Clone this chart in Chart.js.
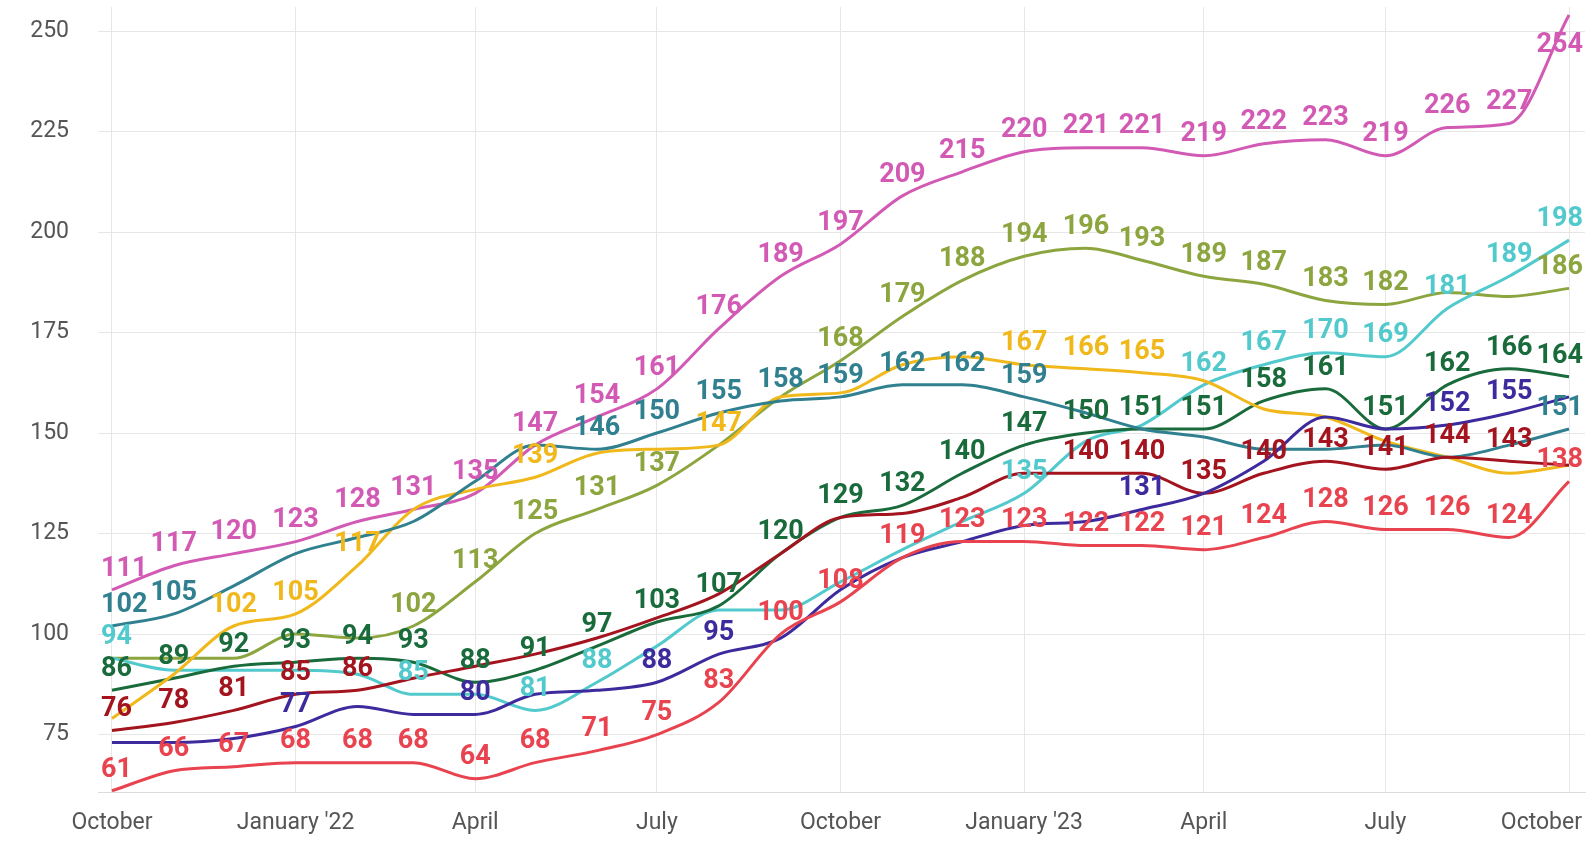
<!DOCTYPE html>
<html>
<head>
<meta charset="utf-8">
<script src="https://cdn.jsdelivr.net/npm/chart.js@4.4.1/dist/chart.umd.min.js"></script>
<style>
  html, body { margin: 0; padding: 0; background: #ffffff; }
  #wrap { width: 1595px; height: 843px; position: relative; }
</style>
</head>
<body>
<div id="wrap"><canvas id="chart"></canvas></div>
<script>

// ---------------- Data ---------------------------------------------------
const MONTHS = [
    '2021-10-01', '2021-11-01', '2021-12-01', '2022-01-01', '2022-02-01',
    '2022-03-01', '2022-04-01', '2022-05-01', '2022-06-01', '2022-07-01',
    '2022-08-01', '2022-09-01', '2022-10-01', '2022-11-01', '2022-12-01',
    '2023-01-01', '2023-02-01', '2023-03-01', '2023-04-01', '2023-05-01',
    '2023-06-01', '2023-07-01', '2023-08-01', '2023-09-01', '2023-10-01'
] ;

const TICK_LABELS = [ 'October', "January '22", 'April', 'July', 'October',
                      "January '23", 'April', 'July', 'October' ] ;
const TICK_MONTHS = [ 0, 3, 6, 9, 12, 15, 18, 21, 24 ] ;
const Y_TICKS     = [ 75, 100, 125, 150, 175, 200, 225, 250 ] ;

const pinkValues      = [ 111, 117, 120, 123, 128, 131, 135, 147, 154, 161, 176, 189, 197, 209, 215, 220, 221, 221, 219, 222, 223, 219, 226, 227, 254 ] ;
const oliveValues     = [  94,  94,  94, 100,  99, 102, 113, 125, 131, 137, 147, 159, 168, 179, 188, 194, 196, 193, 189, 187, 183, 182, 185, 184, 186 ] ;
const cyanValues      = [  94,  91,  91,  91,  90,  85,  85,  81,  88,  97, 106, 106, 113, 121, 128, 135, 148, 152, 162, 167, 170, 169, 181, 189, 198 ] ;
const yellowValues    = [  79,  90, 102, 105, 117, 131, 136, 139, 145, 146, 147, 159, 160, 167, 169, 167, 166, 165, 163, 156, 154, 148, 144, 140, 142 ] ;
const tealValues      = [ 102, 105, 112, 120, 124, 128, 138, 147, 146, 150, 155, 158, 159, 162, 162, 159, 155, 151, 149, 146, 146, 147, 144, 147, 151 ] ;
const darkGreenValues = [  86,  89,  92,  93,  94,  93,  88,  91,  97, 103, 107, 120, 129, 132, 140, 147, 150, 151, 151, 158, 161, 151, 162, 166, 164 ] ;
const purpleValues    = [  73,  73,  74,  77,  82,  80,  80,  85,  86,  88,  95,  99, 111, 119, 123, 127, 128, 131, 135, 143, 154, 151, 152, 155, 159 ] ;
const darkRedValues   = [  76,  78,  81,  85,  86,  89,  92,  95,  99, 104, 110, 120, 129, 130, 134, 140, 140, 140, 135, 140, 143, 141, 144, 143, 142 ] ;
const redValues       = [  61,  66,  67,  68,  68,  68,  64,  68,  71,  75,  83, 100, 108, 119, 123, 123, 122, 122, 121, 124, 128, 126, 126, 124, 138 ] ;

// which points carry a value label
const ALL = MONTHS.map( (m, i) => i ) ;
const pinkLabels      = ALL ;
const oliveLabels     = [ 5, 6, 7, 8, 9, 12, 13, 14, 15, 16, 17, 18, 19, 20, 21, 24 ] ;
const cyanLabels      = [ 0, 5, 7, 8, 15, 18, 19, 20, 21, 22, 23, 24 ] ;
const yellowLabels    = [ 2, 3, 4, 7, 10, 15, 16, 17 ] ;
const tealLabels      = [ 0, 1, 8, 9, 10, 11, 12, 13, 14, 15, 24 ] ;
const darkGreenLabels = ALL ;
const purpleLabels    = [ 3, 6, 9, 10, 17, 22, 23 ] ;
const darkRedLabels   = [ 0, 1, 2, 3, 4, 16, 17, 18, 19, 20, 21, 22, 23 ] ;
const redLabels       = ALL ;

// ---------------- Styles -------------------------------------------------
const PINK       = '#d35ab4' ;
const OLIVE      = '#8ca53f' ;
const CYAN       = '#52c9cc' ;
const YELLOW     = '#f0b81a' ;
const TEAL       = '#30808f' ;
const DARK_GREEN = '#1a6b3c' ;
const PURPLE     = '#3d2b9e' ;
const DARK_RED   = '#a3141e' ;
const RED        = '#e8434f' ;

const GRID_COLOR   = '#e6e6e6' ;
const TICK_COLOR   = '#555555' ;
const TICK_FONT    = '23px Roboto' ;
const LABEL_FONT   = 'bold 27px Roboto' ;
const LABEL_OFFSET = 21 ;

// days since the first month, used as the x value
const dayZero = Date.parse( MONTHS[0] ) ;
const monthDays = MONTHS.map( m => ( Date.parse( m ) - dayZero ) / 86400000 ) ;

function makeSeries( values, color, labels ) {
    return {
        data             : values.map( (v, i) => ( { x: monthDays[i], y: v } ) ),
        borderColor      : color,
        backgroundColor  : color,
        borderWidth      : 3,
        pointRadius      : 0,
        cubicInterpolationMode : 'monotone',
        labelIdx         : labels,
    } ;
}

const datasets = [
    makeSeries( redValues,       RED,        redLabels ),
    makeSeries( purpleValues,    PURPLE,     purpleLabels ),
    makeSeries( darkRedValues,   DARK_RED,   darkRedLabels ),
    makeSeries( tealValues,      TEAL,       tealLabels ),
    makeSeries( yellowValues,    YELLOW,     yellowLabels ),
    makeSeries( darkGreenValues, DARK_GREEN, darkGreenLabels ),
    makeSeries( cyanValues,      CYAN,       cyanLabels ),
    makeSeries( oliveValues,     OLIVE,      oliveLabels ),
    makeSeries( pinkValues,      PINK,       pinkLabels ),
] ;

// ---------------- Value labels and month labels --------------------------
const valueLabels = {
    id : 'valueLabels',
    afterDatasetsDraw( chart ) {
        const ctx  = chart.ctx ;
        const area = chart.chartArea ;
        ctx.save() ;
        ctx.font = LABEL_FONT ;
        ctx.textAlign = 'center' ;
        ctx.textBaseline = 'middle' ;
        chart.data.datasets.forEach( ( ds, di ) => {
            const meta = chart.getDatasetMeta( di ) ;
            ds.labelIdx.forEach( i => {
                const pt   = meta.data[i] ;
                const text = String( ds.data[i].y ) ;
                const w    = ctx.measureText( text ).width ;
                let x = pt.x ;
                let y = pt.y - LABEL_OFFSET ;
                if( y - 10 < area.top ) {
                    y = pt.y + 30 ;
                }
                x = Math.max( area.left + 3 + w/2, Math.min( area.right - 2 - w/2, x ) ) ;
                ctx.fillStyle = ds.borderColor ;
                ctx.fillText( text, x, y ) ;
            } ) ;
        } ) ;
        ctx.restore() ;
    }
} ;

// x tick labels, kept inside the canvas at the right end
const monthLabels = {
    id : 'monthLabels',
    afterDraw( chart ) {
        const ctx   = chart.ctx ;
        const xs    = chart.scales.x ;
        const right = chart.width - 13 ;
        ctx.save() ;
        ctx.font = TICK_FONT ;
        ctx.fillStyle = TICK_COLOR ;
        ctx.textAlign = 'center' ;
        ctx.textBaseline = 'alphabetic' ;
        TICK_MONTHS.forEach( ( m, k ) => {
            const text = TICK_LABELS[k] ;
            const w = ctx.measureText( text ).width ;
            let x = xs.getPixelForValue( monthDays[m] ) ;
            x = Math.min( x, right - w/2 ) ;
            ctx.fillText( text, x, xs.top + 37 ) ;
        } ) ;
        ctx.restore() ;
    }
} ;

// ---------------- Chart --------------------------------------------------
const options = {
    responsive          : true,
    maintainAspectRatio : false,
    animation           : false,
    layout : { padding : { top: 7, right: 10, left: 0, bottom: 0 } },
    plugins : {
        legend  : { display: false },
        tooltip : { enabled: false },
    },
    scales : {
        x : {
            type : 'linear',
            min  : -7,
            max  : monthDays[ monthDays.length - 1 ] + 8,
            afterBuildTicks : scale => {
                scale.ticks = TICK_MONTHS.map( i => ( { value: monthDays[i] } ) ) ;
            },
            afterFit : scale => {
                scale.height = 51 ;
                scale.paddingLeft = 0 ;
                scale.paddingRight = 0 ;
            },
            ticks  : { display: false, autoSkip: false, maxRotation: 0 },
            grid   : { color: GRID_COLOR, drawTicks: false },
            border : { display: true, color: '#dcdcdc' },
        },
        y : {
            min : 60.7,
            max : 256,
            afterBuildTicks : scale => {
                scale.ticks = Y_TICKS.map( v => ( { value: v } ) ) ;
            },
            afterFit : scale => {
                scale.width = 98 ;
                scale.paddingTop = 0 ;
                scale.paddingBottom = 0 ;
            },
            ticks : {
                padding : 29,
                color   : TICK_COLOR,
                font    : { family: 'Roboto', size: 23 },
            },
            grid   : { color: GRID_COLOR, drawTicks: false },
            border : { display: false },
        }
    }
} ;

new Chart( document.getElementById( 'chart' ), {
    type    : 'line',
    data    : { datasets: datasets },
    options : options,
    plugins : [ valueLabels, monthLabels ],
} ) ;
</script>
</body>
</html>
